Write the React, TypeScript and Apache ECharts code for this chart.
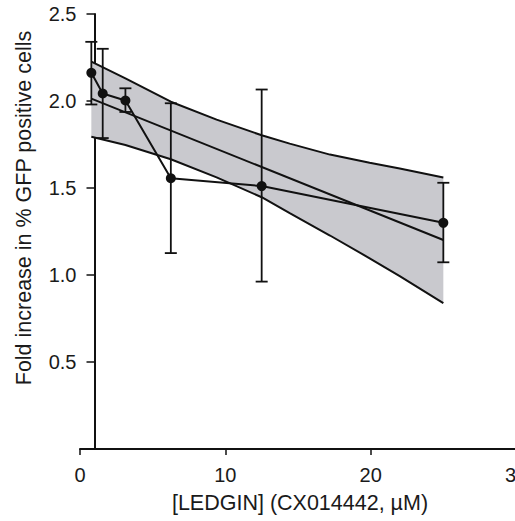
import React, { useEffect, useRef } from "react";
import * as echarts from "echarts";

const concentrations = [0.78, 1.5625, 3.125, 6.25, 12.5, 25];
const foldMeans = [2.162, 2.043, 2.003, 1.556, 1.511, 1.3];
const errLow = [1.98, 1.787, 1.937, 1.126, 0.962, 1.073];
const errHigh = [2.34, 2.3, 2.073, 1.987, 2.066, 1.53];
const fitX = [0.78, 25];
const fitY = [2.014, 1.201];
const bandX = [0.78, 3.125, 6.25, 9.4, 12.5, 14.43, 17.2, 19.93, 22, 25];
const bandUpper = [2.226, 2.13, 1.996, 1.893, 1.803, 1.755, 1.692, 1.645, 1.612, 1.56];
const bandLower = [1.795, 1.747, 1.665, 1.561, 1.447, 1.356, 1.227, 1.096, 0.994, 0.838];
const xTickLabels = ["0", "10", "20", "30"];
const xTitle = "[LEDGIN] (CX014442, \u00b5M)";
const yTitle = "Fold increase in % GFP positive cells";

const FONT = "'Liberation Sans', Arial, Helvetica, sans-serif";
const TEXT = "#1a1a1a";

export default function App() {
  const ref = useRef<HTMLDivElement>(null);
  useEffect(() => {
    if (!ref.current) return;
    const chart = echarts.init(ref.current, null, { renderer: "svg" });
    const ink = "#111";
    chart.setOption({
      animation: false,
      backgroundColor: "#fff",
      textStyle: { fontFamily: FONT },
      grid: {
        left: 80,
        top: 14,
        width: 436,
        height: 435,
        containLabel: false,
        outerBoundsMode: "none",
      },
      xAxis: {
        type: "value",
        min: 0,
        max: 30,
        interval: 10,
        axisLine: { onZero: false, lineStyle: { color: ink, width: 2 } },
        axisTick: { length: 6, lineStyle: { color: ink, width: 1.5 } },
        axisLabel: {
          margin: 16,
          color: TEXT,
          fontSize: 20,
          fontFamily: FONT,
          showMaxLabel: true,
          formatter: (v: number) => xTickLabels[Math.round(v / 10)] ?? "",
        },
        splitLine: { show: false },
      },
      yAxis: {
        type: "value",
        min: 0,
        max: 2.5,
        interval: 0.5,
        offset: -14.5,
        axisLine: { show: true, onZero: false, lineStyle: { color: ink, width: 2 } },
        axisTick: { show: true, length: 8, lineStyle: { color: ink, width: 1.5 } },
        axisLabel: {
          margin: 18,
          color: TEXT,
          fontSize: 20,
          fontFamily: FONT,
          formatter: (v: number) => (v === 0 ? "" : v.toFixed(1)),
        },
        splitLine: { show: false },
      },
      graphic: [
        {
          type: "text",
          x: 24,
          y: 208,
          rotation: Math.PI / 2,
          style: {
            text: yTitle,
            font: `21.5px ${FONT}`,
            fill: TEXT,
            align: "center",
            verticalAlign: "middle",
          },
        },
        {
          type: "text",
          x: 300,
          y: 503,
          style: {
            text: xTitle,
            font: `21.5px ${FONT}`,
            fill: TEXT,
            align: "center",
            verticalAlign: "middle",
          },
        },
      ],
      series: [
        {
          type: "custom",
          name: "band",
          z: 1,
          silent: true,
          data: [[bandX[0], bandUpper[0]]],
          renderItem: (_p: any, api: any) => {
            const pts: number[][] = [];
            bandX.forEach((x, i) => pts.push(api.coord([x, bandUpper[i]])));
            for (let i = bandX.length - 1; i >= 0; i--) pts.push(api.coord([bandX[i], bandLower[i]]));
            return { type: "polygon", shape: { points: pts }, style: { fill: "#c9c9ce", stroke: "none" } };
          },
        },
        {
          type: "line",
          name: "upper",
          z: 2,
          data: bandX.map((x, i) => [x, bandUpper[i]]),
          showSymbol: false,
          symbol: "none",
          lineStyle: { color: ink, width: 2 },
        },
        {
          type: "line",
          name: "lower",
          z: 2,
          data: bandX.map((x, i) => [x, bandLower[i]]),
          showSymbol: false,
          symbol: "none",
          lineStyle: { color: ink, width: 2 },
        },
        {
          type: "line",
          name: "fit",
          z: 2,
          data: fitX.map((x, i) => [x, fitY[i]]),
          showSymbol: false,
          symbol: "none",
          lineStyle: { color: ink, width: 2 },
        },
        {
          type: "custom",
          name: "error",
          z: 3,
          data: concentrations.map((x, i) => [x, errLow[i], errHigh[i]]),
          encode: { x: 0, y: [1, 2] },
          renderItem: (_p: any, api: any) => {
            const x = api.value(0);
            const lo = api.coord([x, api.value(1)]);
            const hi = api.coord([x, api.value(2)]);
            const hw = 6;
            const st = { stroke: ink, lineWidth: 1.8 };
            return {
              type: "group",
              children: [
                { type: "line", shape: { x1: lo[0], y1: lo[1], x2: hi[0], y2: hi[1] }, style: st },
                { type: "line", shape: { x1: lo[0] - hw, y1: lo[1], x2: lo[0] + hw, y2: lo[1] }, style: st },
                { type: "line", shape: { x1: hi[0] - hw, y1: hi[1], x2: hi[0] + hw, y2: hi[1] }, style: st },
              ],
            };
          },
        },
        {
          type: "line",
          name: "mean",
          z: 4,
          data: concentrations.map((x, i) => [x, foldMeans[i]]),
          symbol: "circle",
          symbolSize: 10,
          showSymbol: true,
          itemStyle: { color: ink },
          lineStyle: { color: ink, width: 2 },
        },
      ],
    });
    return () => chart.dispose();
  }, []);
  return (
    <div
      ref={ref}
      style={{ position: "fixed", left: 0, top: 0, width: 515, height: 521, background: "#fff" }}
    />
  );
}
